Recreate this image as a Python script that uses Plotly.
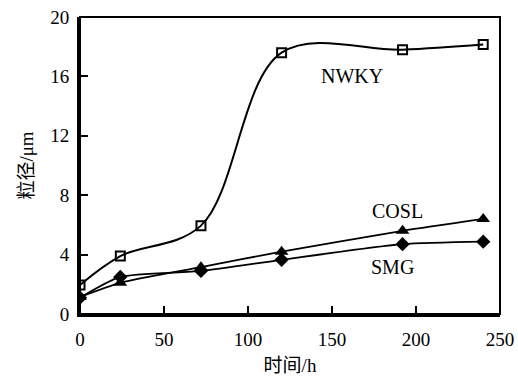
import plotly.graph_objects as go

time_h = [0, 24, 72, 120, 192, 240]
nwky = [1.95, 3.9, 5.95, 17.6, 17.8, 18.15]
cosl = [1.15, 2.1, 3.15, 4.2, 5.6, 6.4]
smg = [1.1, 2.5, 2.9, 3.65, 4.7, 4.87]

series_names = ["NWKY", "COSL", "SMG"]
label_x = [162, 189, 186]
label_y = [16.0, 6.95, 3.15]

FONT = "Liberation Serif, Times New Roman, Noto Sans CJK SC, serif"

fig = go.Figure()
fig.add_trace(go.Scatter(x=time_h, y=nwky, mode="lines+markers", name="NWKY",
                         line=dict(color="black", width=2, shape="spline", smoothing=1.0),
                         marker=dict(symbol="square-open", size=9, color="black", line=dict(width=2))))
fig.add_trace(go.Scatter(x=time_h, y=cosl, mode="lines+markers", name="COSL",
                         line=dict(color="black", width=1.8, shape="spline", smoothing=0.6),
                         marker=dict(symbol="triangle-up", size=12, color="black")))
fig.add_trace(go.Scatter(x=time_h, y=smg, mode="lines+markers", name="SMG",
                         line=dict(color="black", width=1.8, shape="spline", smoothing=0.6),
                         marker=dict(symbol="diamond", size=11, color="black")))

for name, lx, ly in zip(series_names, label_x, label_y):
    fig.add_annotation(x=lx, y=ly, text=name, showarrow=False,
                       font=dict(family=FONT, size=20, color="black"))

fig.add_shape(type="rect", xref="paper", yref="paper", x0=0, y0=0, x1=1, y1=1,
              line=dict(color="black", width=2))

fig.update_layout(
    width=518, height=376,
    margin=dict(l=80, r=18, t=17, b=62),
    plot_bgcolor="white", paper_bgcolor="white",
    showlegend=False,
    font=dict(family=FONT, size=19, color="black"),
    xaxis=dict(range=[0, 250], tickvals=[0, 50, 100, 150, 200, 250], automargin=False,
               ticks="inside", ticklen=8, tickwidth=2, tickcolor="black",
               showline=True, linewidth=3, linecolor="black", showgrid=False, zeroline=False,
               ticklabelstandoff=6, ticklabeloverflow="allow",
               title=dict(text="时间/h", font=dict(family=FONT, size=19), standoff=14)),
    yaxis=dict(range=[0, 20], tickvals=[0, 4, 8, 12, 16, 20], automargin=False,
               ticks="inside", ticklen=8, tickwidth=2, tickcolor="black",
               showline=True, linewidth=3, linecolor="black", showgrid=False, zeroline=False,
               ticklabelstandoff=4, ticklabeloverflow="allow",
               title=dict(text="粒径/μm", font=dict(family=FONT, size=19), standoff=12)),
)

fig.write_html("out.html", config={"displayModeBar": False},
               post_script="document.body.style.margin='0';")
